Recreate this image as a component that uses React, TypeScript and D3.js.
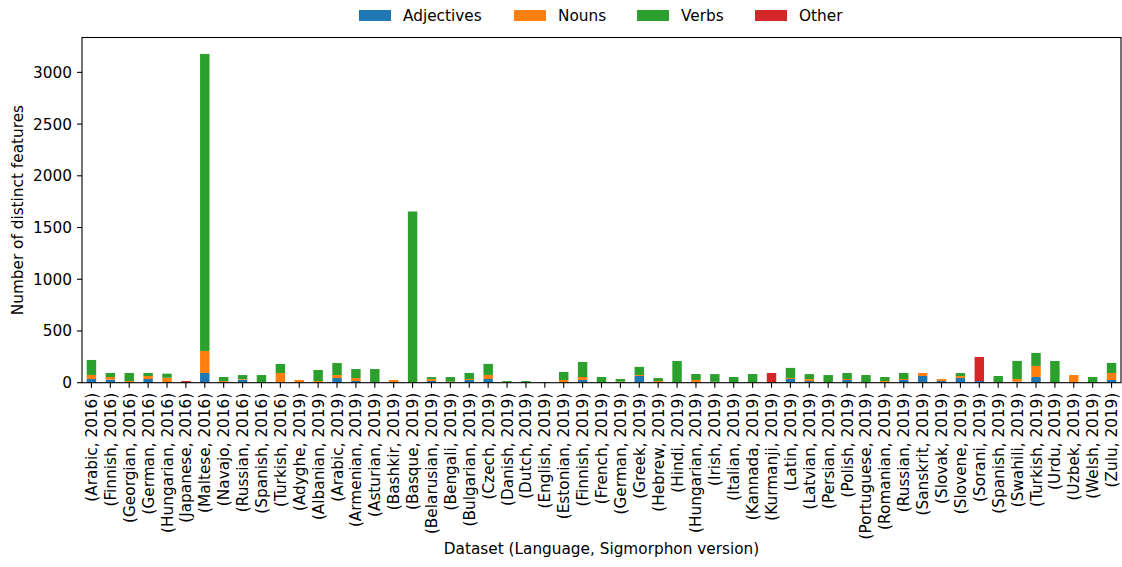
import * as d3 from "d3";

// --- data ---

const datasets = [
  "(Arabic, 2016)", "(Finnish, 2016)", "(Georgian, 2016)", "(German, 2016)",
  "(Hungarian, 2016)", "(Japanese, 2016)", "(Maltese, 2016)", "(Navajo, 2016)",
  "(Russian, 2016)", "(Spanish, 2016)", "(Turkish, 2016)", "(Adyghe, 2019)",
  "(Albanian, 2019)", "(Arabic, 2019)", "(Armenian, 2019)", "(Asturian, 2019)",
  "(Bashkir, 2019)", "(Basque, 2019)", "(Belarusian, 2019)", "(Bengali, 2019)",
  "(Bulgarian, 2019)", "(Czech, 2019)", "(Danish, 2019)", "(Dutch, 2019)",
  "(English, 2019)", "(Estonian, 2019)", "(Finnish, 2019)", "(French, 2019)",
  "(German, 2019)", "(Greek, 2019)", "(Hebrew, 2019)", "(Hindi, 2019)",
  "(Hungarian, 2019)", "(Irish, 2019)", "(Italian, 2019)", "(Kannada, 2019)",
  "(Kurmanji, 2019)", "(Latin, 2019)", "(Latvian, 2019)", "(Persian, 2019)",
  "(Polish, 2019)", "(Portuguese, 2019)", "(Romanian, 2019)", "(Russian, 2019)",
  "(Sanskrit, 2019)", "(Slovak, 2019)", "(Slovene, 2019)", "(Sorani, 2019)",
  "(Spanish, 2019)", "(Swahili, 2019)", "(Turkish, 2019)", "(Urdu, 2019)",
  "(Uzbek, 2019)", "(Welsh, 2019)", "(Zulu, 2019)",
];

const adjectives = [
  36, 29, 3, 36, 3, 0, 94, 0, 29, 0, 3, 0, 0, 45, 16, 0, 6, 0, 16, 0,
  26, 36, 0, 0, 0, 3, 26, 0, 0, 65, 0, 0, 3, 3, 0, 0, 0, 36, 16, 0,
  26, 0, 3, 26, 65, 16, 45, 16, 0, 10, 55, 0, 0, 0, 26,
];

const nouns = [
  39, 26, 13, 29, 45, 0, 213, 16, 6, 0, 91, 26, 16, 29, 29, 0, 20, 0, 19, 10,
  10, 39, 6, 3, 0, 23, 29, 0, 10, 10, 16, 0, 23, 6, 0, 3, 0, 10, 19, 0,
  10, 0, 13, 10, 29, 19, 19, 0, 0, 26, 107, 0, 74, 0, 68,
];

const verbs = [
  145, 39, 78, 29, 39, 0, 2871, 39, 39, 74, 87, 0, 107, 116, 87, 132, 0, 1655, 19, 45,
  58, 107, 10, 13, 6, 78, 145, 55, 26, 78, 29, 210, 58, 74, 55, 81, 0, 97, 48, 74,
  58, 74, 39, 58, 0, 0, 29, 0, 65, 175, 126, 210, 0, 55, 97,
];

const other = [
  0, 0, 0, 0, 0, 16, 0, 0, 0, 0, 0, 0, 0, 0, 0, 0, 0, 0, 0, 0,
  0, 0, 0, 0, 0, 0, 0, 0, 0, 0, 0, 0, 0, 0, 0, 0, 94, 0, 0, 0,
  0, 0, 0, 0, 0, 0, 0, 233, 0, 0, 0, 0, 0, 0, 0,
];

const seriesKeys = ["Adjectives", "Nouns", "Verbs", "Other"];
const seriesColors = ["#1f77b4", "#ff7f0e", "#2ca02c", "#d62728"];
const yTicks = [0, 500, 1000, 1500, 2000, 2500, 3000];

// --- layout ---

const W = 1122;
const H = 567;
const PLOT = { left: 82, right: 1121, top: 37.5, bottom: 382.7 };
const FONT = "'DejaVu Sans', sans-serif";
const FS = 15.3;
const TICK = 5;
const LEGEND_X = [359, 514, 637, 755]; // left of each legend swatch

export default function App() {
  const rows = datasets.map((name, i) => ({
    name,
    Adjectives: adjectives[i],
    Nouns: nouns[i],
    Verbs: verbs[i],
    Other: other[i],
  }));

  const stacked = d3.stack<(typeof rows)[number]>().keys(seriesKeys)(rows);
  const maxTotal = d3.max(rows, (r) => r.Adjectives + r.Nouns + r.Verbs + r.Other) ?? 0;

  const x = d3
    .scaleBand<string>()
    .domain(datasets)
    .range([PLOT.left, PLOT.right])
    .paddingInner(0.5)
    .paddingOuter(0.25);

  const y = d3
    .scaleLinear()
    .domain([0, maxTotal * 1.05])
    .range([PLOT.bottom, PLOT.top]);

  const bw = x.bandwidth();

  return (
    <svg
      width={W}
      height={H}
      style={{ position: "absolute", left: 0, top: 0, background: "#fff" }}
      fontFamily={FONT}
    >
      {/* bars */}
      {stacked.map((layer, si) => (
        <g key={layer.key} fill={seriesColors[si]}>
          {layer.map((d, i) => {
            const h = y(d[0]) - y(d[1]);
            if (h <= 0) return null;
            return (
              <rect
                key={i}
                x={x(datasets[i])}
                y={y(d[1])}
                width={bw}
                height={h}
              />
            );
          })}
        </g>
      ))}

      {/* frame */}
      <rect
        x={PLOT.left}
        y={PLOT.top}
        width={PLOT.right - PLOT.left}
        height={PLOT.bottom - PLOT.top}
        fill="none"
        stroke="#000"
        strokeWidth={1.1}
      />

      {/* y axis */}
      {yTicks.map((t) => (
        <g key={t}>
          <line
            x1={PLOT.left - TICK}
            x2={PLOT.left}
            y1={y(t)}
            y2={y(t)}
            stroke="#000"
            strokeWidth={1.1}
          />
          <text
            x={PLOT.left - TICK - 5}
            y={y(t)}
            dy="0.36em"
            textAnchor="end"
            fontSize={FS}
            fill="#000"
          >
            {t}
          </text>
        </g>
      ))}
      <text
        transform={`translate(17, ${(PLOT.top + PLOT.bottom) / 2}) rotate(-90)`}
        textAnchor="middle"
        dy="0.36em"
        fontSize={FS}
        fill="#000"
      >
        Number of distinct features
      </text>

      {/* x axis */}
      {datasets.map((name) => {
        const cx = (x(name) ?? 0) + bw / 2;
        return (
          <g key={name}>
            <line
              x1={cx}
              x2={cx}
              y1={PLOT.bottom}
              y2={PLOT.bottom + TICK}
              stroke="#000"
              strokeWidth={1.1}
            />
            <text
              transform={`translate(${cx}, ${PLOT.bottom + TICK + 5}) rotate(-90)`}
              textAnchor="end"
              dy="0.36em"
              fontSize={FS}
              fill="#000"
            >
              {name}
            </text>
          </g>
        );
      })}
      <text
        x={(PLOT.left + PLOT.right) / 2}
        y={554}
        textAnchor="middle"
        fontSize={FS}
        fill="#000"
      >
        Dataset (Language, Sigmorphon version)
      </text>

      {/* legend */}
      {seriesKeys.map((k, i) => (
        <g key={k}>
          <rect x={LEGEND_X[i]} y={10} width={32} height={11} fill={seriesColors[i]} />
          <text x={LEGEND_X[i] + 44} y={15.5} dy="0.36em" fontSize={FS} fill="#000">
            {k}
          </text>
        </g>
      ))}
    </svg>
  );
}
